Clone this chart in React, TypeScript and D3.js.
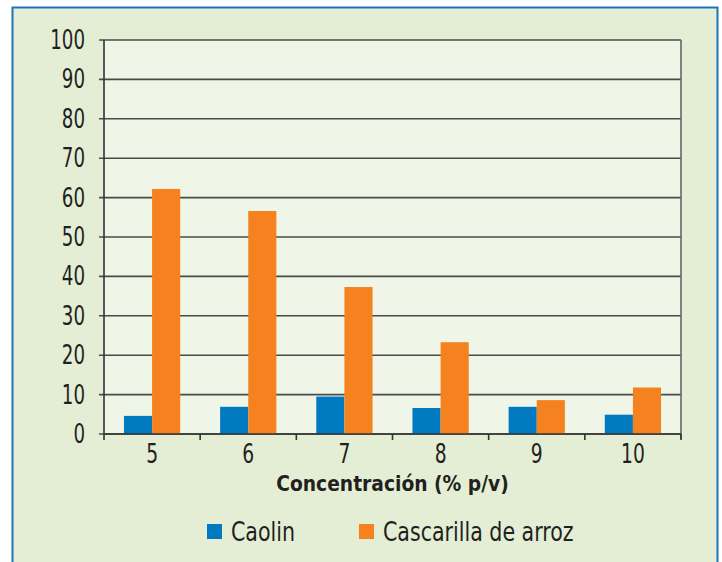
import React, { useEffect, useRef } from 'react';
import * as d3 from 'd3';

const concentrations = ['5', '6', '7', '8', '9', '10'];
const caolin = [4.6, 6.9, 9.5, 6.6, 6.9, 4.9];
const cascarilla = [62.2, 56.6, 37.3, 23.3, 8.6, 11.8];
const yTicks = [0, 10, 20, 30, 40, 50, 60, 70, 80, 90, 100];
const seriesNames = ['Caolin', 'Cascarilla de arroz'];
const seriesColors = ['#0079c1', '#f5821f'];

const FONT = "'Liberation Sans Narrow', 'DejaVu Sans Condensed', 'Roboto', sans-serif";
const TEXT_COLOR = '#231f20';

const App = () => {
    const ref = useRef<SVGSVGElement>(null);

    useEffect(() => {
        const svg = d3.select(ref.current);
        svg.selectAll('*').remove();

        const width = 722;
        const height = 562;
        const margin = { top: 40, right: 41, bottom: 128, left: 104 };
        const innerW = width - margin.left - margin.right;
        const innerH = height - margin.top - margin.bottom;

        // condensed-looking text: scale horizontally around its anchor
        const label = (parent: any, x: number, y: number, txt: string, size: number,
                       sx: number, anchor: string, weight = 'normal') => {
            parent.append('text')
                .attr('transform', `translate(${x},${y}) scale(${sx},1)`)
                .attr('text-anchor', anchor)
                .attr('font-family', FONT)
                .attr('font-size', size)
                .attr('font-weight', weight)
                .attr('fill', TEXT_COLOR)
                .text(txt);
        };

        // frame
        svg.append('rect')
            .attr('x', 12.5).attr('y', 7.5)
            .attr('width', 705).attr('height', 580)
            .attr('fill', '#e4eed5')
            .attr('stroke', '#1f74b8')
            .attr('stroke-width', 2);

        const g = svg.append('g')
            .attr('transform', `translate(${margin.left},${margin.top})`);

        g.append('rect')
            .attr('width', innerW).attr('height', innerH)
            .attr('fill', '#f0f6e7');

        const x = d3.scaleBand().domain(concentrations).range([0, innerW]);
        const xInner = d3.scaleBand().domain(seriesNames)
            .range([0, x.bandwidth()]).paddingOuter(0.71).paddingInner(0);
        const y = d3.scaleLinear().domain([0, 100]).range([innerH, 0]);

        // gridlines
        g.selectAll('line.grid')
            .data(yTicks)
            .enter()
            .append('line')
            .attr('class', 'grid')
            .attr('x1', -5).attr('x2', innerW)
            .attr('y1', d => y(d)).attr('y2', d => y(d))
            .attr('stroke', '#4a4a4a')
            .attr('stroke-width', 1.6);

        // right border
        g.append('line')
            .attr('x1', innerW).attr('x2', innerW)
            .attr('y1', 0).attr('y2', innerH + 5)
            .attr('stroke', '#666').attr('stroke-width', 1.6);

        // bars
        const groups = g.selectAll('g.cat')
            .data(concentrations)
            .enter()
            .append('g')
            .attr('transform', d => `translate(${x(d)},0)`);

        groups.selectAll('rect')
            .data((d, i) => [caolin[i], cascarilla[i]])
            .enter()
            .append('rect')
            .attr('x', (d, j) => xInner(seriesNames[j]) as number)
            .attr('y', d => y(d))
            .attr('width', xInner.bandwidth())
            .attr('height', d => innerH - y(d))
            .attr('fill', (d, j) => seriesColors[j]);

        // y axis line
        g.append('line')
            .attr('x1', 0).attr('x2', 0)
            .attr('y1', 0).attr('y2', innerH)
            .attr('stroke', '#333').attr('stroke-width', 1.6);

        // x axis baseline + ticks
        g.append('line')
            .attr('x1', 0).attr('x2', innerW)
            .attr('y1', innerH).attr('y2', innerH)
            .attr('stroke', '#333').attr('stroke-width', 1.6);

        const boundaries = concentrations.map(d => x(d) as number).concat([innerW]);
        g.selectAll('line.xtick')
            .data(boundaries)
            .enter()
            .append('line')
            .attr('x1', d => d).attr('x2', d => d)
            .attr('y1', innerH).attr('y2', innerH + 6)
            .attr('stroke', '#333').attr('stroke-width', 1.6);

        // tick labels
        yTicks.forEach(t => label(g, -19, y(t) + 9, String(t), 26, 0.78, 'end'));
        concentrations.forEach(c =>
            label(g, (x(c) as number) + x.bandwidth() / 2, innerH + 29, c, 26, 0.8, 'middle'));

        // x axis title
        label(g, innerW / 2, innerH + 57, 'Concentración (% p/v)', 21, 0.99, 'middle', 'bold');

        // legend
        const legendX = [207, 359];
        seriesNames.forEach((name, i) => {
            svg.append('rect')
                .attr('x', legendX[i]).attr('y', 524)
                .attr('width', 15).attr('height', 15)
                .attr('fill', seriesColors[i]);
            label(svg, legendX[i] + 24, 541, name, 26, 0.88, 'start');
        });
    }, []);

    return (
        <svg ref={ref} width={722} height={562}
             style={{ position: 'absolute', left: 0, top: 0, display: 'block' }} />
    );
};

export default App;
